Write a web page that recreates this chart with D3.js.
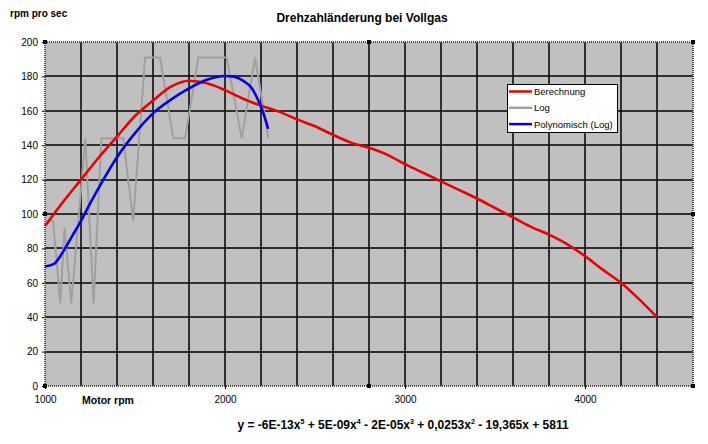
<!DOCTYPE html>
<html>
<head>
<meta charset="utf-8">
<script src="https://cdn.jsdelivr.net/npm/d3@7"></script>
<style>
  body { margin: 0; background: #fff; }
  svg { display: block; font-family: "Liberation Sans", Arial, sans-serif; }
</style>
</head>
<body>
<svg id="chart" width="708" height="444"></svg>
<script>
// Berechnung (red)
const calcRpm = [1000, 1100, 1200, 1300, 1400, 1500, 1600, 1700, 1800, 1900, 2000, 2100, 2200, 2300, 2400, 2500,
  2600, 2700, 2800, 2900, 3000, 3100, 3200, 3300, 3400, 3500, 3600, 3700, 3800, 3900, 4000, 4100, 4200, 4300, 4400];
const calcVal = [93, 107, 120, 133, 145, 157, 166, 174, 177.5, 176, 172, 167, 163, 159.5, 155, 151,
  146, 141.5, 138.5, 134.5, 129, 124, 119, 114, 109, 103.5, 98, 92.5, 88, 82.5, 75.5, 67.5, 60, 50.5, 40];

// Log (gray)
const logRpm = [1000, 1045, 1085, 1109, 1146, 1224, 1270, 1313, 1435, 1490, 1556, 1639, 1713, 1778, 1852, 2009, 2093, 2167, 2241];
const logVal = [96, 96, 48, 92, 48, 144, 48, 144, 144, 96, 191, 191, 144, 144, 191, 191, 144, 191, 144];

// Polynomisch (Log) (blue)
const polyRpm = [1000, 1050, 1100, 1150, 1200, 1250, 1300, 1400, 1500, 1600, 1700, 1800, 1900, 2000, 2050, 2100, 2150, 2185, 2215, 2240];
const polyVal = [69.5, 71, 78, 87, 96, 106, 115.5, 133, 147, 158.5, 166.5, 173, 178, 180.2, 179.8, 177.5, 173, 166, 158, 149.5];

const xTicks = [1000, 2000, 3000, 4000];
const yTicks = [0, 20, 40, 60, 80, 100, 120, 140, 160, 180, 200];
const xGrid = [1200, 1400, 1600, 1800, 2000, 2200, 2400, 2600, 2800, 3000, 3200, 3400, 3600, 3800, 4000, 4200, 4400];
const yGrid = [20, 40, 60, 80, 100, 120, 140, 160, 180];

const seriesNames = ["Berechnung", "Log", "Polynomisch (Log)"];
const seriesColors = ["#ee0000", "#a0a0a0", "#0000ee"];

const svg = d3.select("#chart");
const plotL = 45, plotR = 693, plotT = 42, plotB = 386;

const xs = d3.scaleLinear().domain([1000, 4600]).range([plotL, plotR]);
const ys = d3.scaleLinear().domain([0, 200]).range([plotB, plotT]);

// plot background
svg.append("rect")
  .attr("x", plotL).attr("y", plotT)
  .attr("width", plotR - plotL).attr("height", plotB - plotT)
  .attr("fill", "#c0c0c0");

// grid lines
const gridG = svg.append("g");
gridG.selectAll(".vg")
  .data(xGrid)
  .join("line")
  .attr("class", "vg")
  .attr("x1", d => Math.round(xs(d))).attr("x2", d => Math.round(xs(d)))
  .attr("y1", plotT).attr("y2", plotB)
  .attr("stroke", "#000").attr("stroke-width", 1.5);
gridG.selectAll(".hg")
  .data(yGrid)
  .join("line")
  .attr("class", "hg")
  .attr("x1", plotL).attr("x2", plotR)
  .attr("y1", d => Math.round(ys(d))).attr("y2", d => Math.round(ys(d)))
  .attr("stroke", "#000").attr("stroke-width", 1.5);

// axes
const yAxis = svg.append("g")
  .attr("transform", `translate(${plotL},0)`)
  .call(d3.axisLeft(ys).tickValues(yTicks).tickSize(3).tickPadding(4));
yAxis.select(".domain").remove();

const xAxis = svg.append("g")
  .attr("transform", `translate(0,${plotB})`)
  .call(d3.axisBottom(xs).tickValues(xTicks).tickSize(3).tickPadding(7).tickFormat(d3.format("d")));
xAxis.select(".domain").remove();

[xAxis, yAxis].forEach(a => {
  a.attr("font-family", null);
  a.selectAll("text").attr("font-size", 10).attr("fill", "#000");
});

// plot border (selected look)
svg.append("rect")
  .attr("x", plotL).attr("y", plotT)
  .attr("width", plotR - plotL).attr("height", plotB - plotT)
  .attr("fill", "none")
  .attr("stroke", "#505050").attr("stroke-width", 2)
  .attr("stroke-dasharray", "1,1");

// series
const smooth = d3.line().x(d => xs(d[0])).y(d => ys(d[1])).curve(d3.curveMonotoneX);
const straight = d3.line().x(d => xs(d[0])).y(d => ys(d[1]));

svg.append("path")
  .datum(logRpm.map((r, i) => [r, logVal[i]]))
  .attr("d", straight)
  .attr("fill", "none").attr("stroke", seriesColors[1]).attr("stroke-width", 2);

svg.append("path")
  .datum(calcRpm.map((r, i) => [r, calcVal[i]]))
  .attr("d", smooth)
  .attr("fill", "none").attr("stroke", seriesColors[0]).attr("stroke-width", 2.6);

svg.append("path")
  .datum(polyRpm.map((r, i) => [r, polyVal[i]]))
  .attr("d", smooth)
  .attr("fill", "none").attr("stroke", seriesColors[2]).attr("stroke-width", 2.6);

// selection handles
const hx = [plotL, (plotL + plotR) / 2, plotR];
const hy = [plotT, (plotT + plotB) / 2, plotB];
const handles = [];
hx.forEach((a, i) => hy.forEach((b, j) => { if (!(i === 1 && j === 1)) handles.push([a, b]); }));
svg.append("g").selectAll("rect")
  .data(handles)
  .join("rect")
  .attr("x", d => d[0] - 2).attr("y", d => d[1] - 2)
  .attr("width", 4).attr("height", 4)
  .attr("fill", "#000");

// legend
const legend = svg.append("g").attr("transform", "translate(507,84)");
legend.append("rect")
  .attr("x", 0.5).attr("y", 0.5).attr("width", 110).attr("height", 48)
  .attr("fill", "#fff").attr("stroke", "#000");
const entry = legend.selectAll(".entry")
  .data(seriesNames)
  .join("g")
  .attr("class", "entry")
  .attr("transform", (d, i) => `translate(0,${7.5 + i * 16.3})`);
entry.append("line")
  .attr("x1", 2).attr("x2", 25).attr("y1", 0).attr("y2", 0)
  .attr("stroke", (d, i) => seriesColors[i]).attr("stroke-width", 2.5);
entry.append("text")
  .attr("x", 27).attr("y", 3.5)
  .attr("font-size", 9.5)
  .text(d => d);

// titles
svg.append("text")
  .attr("x", 362).attr("y", 22)
  .attr("text-anchor", "middle")
  .attr("font-size", 12).attr("font-weight", "bold")
  .text("Drehzahländerung bei Vollgas");

svg.append("text")
  .attr("x", 10).attr("y", 17)
  .attr("font-size", 10).attr("font-weight", "bold")
  .text("rpm pro sec");

svg.append("text")
  .attr("x", 82).attr("y", 404)
  .attr("font-size", 10.5).attr("font-weight", "bold")
  .text("Motor rpm");

// trendline equation
const eqParts = [
  ["y = -6E-13x", false], ["5", true], [" + 5E-09x", false], ["4", true],
  [" - 2E-05x", false], ["3", true], [" + 0,0253x", false], ["2", true],
  [" - 19,365x + 5811", false]
];
const eq = svg.append("text")
  .attr("x", 403).attr("y", 429)
  .attr("text-anchor", "middle")
  .attr("font-size", 12).attr("font-weight", "bold");
eqParts.forEach((p, i) => {
  const prevSup = i > 0 && eqParts[i - 1][1];
  eq.append("tspan")
    .attr("dy", p[1] ? -5 : (prevSup ? 5 : 0))
    .attr("font-size", p[1] ? 7 : 12)
    .text(p[0]);
});
</script>
</body>
</html>
